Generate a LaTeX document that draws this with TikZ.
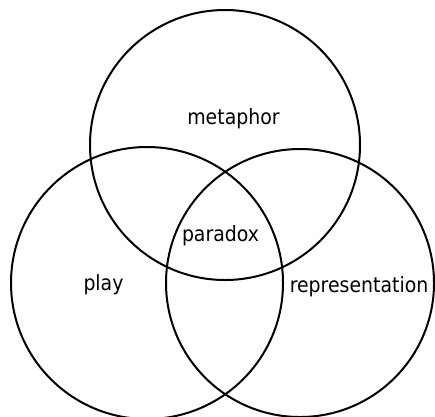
\documentclass[tikz,border=0pt]{standalone}
\usepackage{fontspec}
\setmainfont{DejaVu Sans Condensed}
\begin{document}
\begin{tikzpicture}[x=1pt,y=-1pt,
  ring/.style={draw=black,line width=2pt,circle,minimum size=#1,inner sep=0pt},
  lbl/.style={anchor=base,inner sep=0pt,font=\fontsize{21}{24}\selectfont,text=black}]
\useasboundingbox (0,0) rectangle (435,416);
\node[ring=270pt] (top) at (225,145) {};
\node[ring=272pt] (left) at (147,283) {};
\node[ring=268pt] (right) at (300,283) {};
\node[lbl] (metaphor) at (233.5,124) {metaphor};
\node[lbl] (paradox) at (220.5,241) {paradox};
\node[lbl] (play) at (103.5,290) {play};
\node[lbl] (representation) at (359,292) {representation};
\end{tikzpicture}
\end{document}
